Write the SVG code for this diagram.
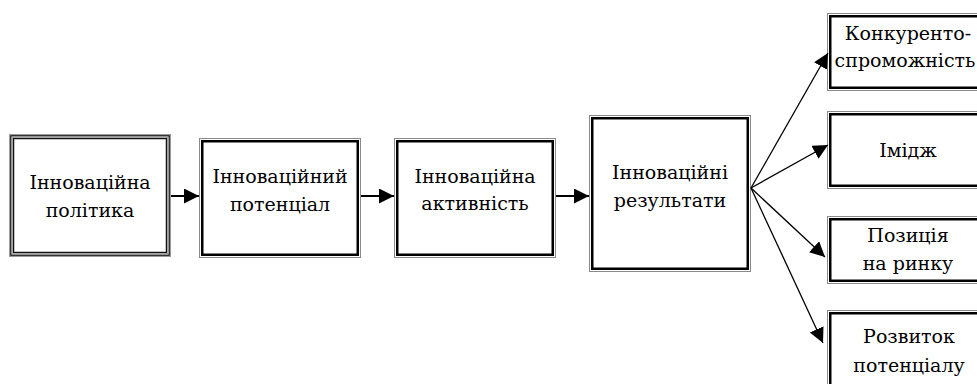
<svg xmlns="http://www.w3.org/2000/svg" width="977" height="384" viewBox="0 0 977 384">
<style>
.bg{fill:#fff}
.outer{fill:none;stroke:#8a8a8a;stroke-width:1}
.inner{fill:none;stroke:#000;stroke-width:2.5}
.dbl{fill:none;stroke:#111;stroke-width:1.3}
.dblg{fill:none;stroke:#9a9a9a;stroke-width:1}
.t{font-family:'DejaVu Serif','Liberation Serif',serif;font-size:19px;fill:#000;text-anchor:middle}
.conn line{stroke:#000;fill:none}
.h{stroke-width:2}
.f{stroke-width:1.3}
</style>
<defs>
<marker id="ah" markerUnits="userSpaceOnUse" markerWidth="16" markerHeight="16" refX="15" refY="7.5" orient="auto">
<path d="M0,0 L15,7.5 L0,15 z" fill="#000"/>
</marker>
</defs>
<rect width="977" height="384" fill="#fff"/>
<g id="n1">
<rect class="bg" x="9" y="134" width="162" height="123"/>
<rect class="dblg" x="9.5" y="134.5" width="161" height="122"/>
<rect class="dbl" x="10.8" y="135.8" width="158.4" height="119.4"/>
<rect class="dblg" x="12.3" y="137.3" width="155.4" height="116.4"/>
<rect class="dbl" x="13.6" y="138.6" width="152.8" height="113.8"/>
<text class="t" x="90" y="189">Інноваційна</text>
<text class="t" x="90" y="217">політика</text>
</g>
<g id="n2">
<rect class="bg" x="199" y="138" width="162" height="120"/>
<rect class="outer" x="199.5" y="138.5" width="161" height="119"/>
<rect class="inner" x="202.25" y="141.25" width="155.5" height="113.5"/>
<text class="t" x="280" y="183">Інноваційний</text>
<text class="t" x="280" y="211">потенціал</text>
</g>
<g id="n3">
<rect class="bg" x="394" y="138" width="162" height="120"/>
<rect class="outer" x="394.5" y="138.5" width="161" height="119"/>
<rect class="inner" x="397.25" y="141.25" width="155.5" height="113.5"/>
<text class="t" x="475" y="183">Інноваційна</text>
<text class="t" x="475" y="210">активність</text>
</g>
<g id="n4">
<rect class="bg" x="589" y="115" width="162" height="157"/>
<rect class="outer" x="589.5" y="115.5" width="161" height="156"/>
<rect class="inner" x="592.25" y="118.25" width="155.5" height="150.5"/>
<text class="t" x="670" y="179">Інноваційні</text>
<text class="t" x="670" y="207">результати</text>
</g>
<g id="n5">
<rect class="bg" x="827" y="13" width="162" height="78"/>
<rect class="outer" x="827.5" y="13.5" width="161" height="77"/>
<rect class="inner" x="830.25" y="16.25" width="155.5" height="71.5"/>
<text class="t" x="908" y="40">Конкуренто-</text>
<text class="t" x="905" y="67">спроможність</text>
</g>
<g id="n6">
<rect class="bg" x="827" y="111" width="162" height="78"/>
<rect class="outer" x="827.5" y="111.5" width="161" height="77"/>
<rect class="inner" x="830.25" y="114.25" width="155.5" height="71.5"/>
<text class="t" x="908" y="157">Імідж</text>
</g>
<g id="n7">
<rect class="bg" x="827" y="216" width="162" height="68"/>
<rect class="outer" x="827.5" y="216.5" width="161" height="67"/>
<rect class="inner" x="830.25" y="219.25" width="155.5" height="61.5"/>
<text class="t" x="908" y="242">Позиція</text>
<text class="t" x="908" y="270">на ринку</text>
</g>
<g id="n8">
<rect class="bg" x="827" y="310" width="162" height="90"/>
<rect class="outer" x="827.5" y="310.5" width="161" height="89"/>
<rect class="inner" x="830.25" y="313.25" width="155.5" height="83.5"/>
<text class="t" x="909" y="343">Розвиток</text>
<text class="t" x="909" y="372">потенціалу</text>
</g>
<g id="connectors" class="conn">
<line class="h" x1="171" y1="196" x2="199" y2="196" marker-end="url(#ah)"/>
<line class="h" x1="361" y1="196" x2="394" y2="196" marker-end="url(#ah)"/>
<line class="h" x1="556" y1="196" x2="589" y2="196" marker-end="url(#ah)"/>
<line class="f" x1="751" y1="188" x2="828" y2="53" marker-end="url(#ah)"/>
<line class="f" x1="751" y1="188" x2="828" y2="145" marker-end="url(#ah)"/>
<line class="f" x1="751" y1="188" x2="825" y2="257" marker-end="url(#ah)"/>
<line class="f" x1="751" y1="188" x2="823" y2="343" marker-end="url(#ah)"/>
</g>
</svg>
